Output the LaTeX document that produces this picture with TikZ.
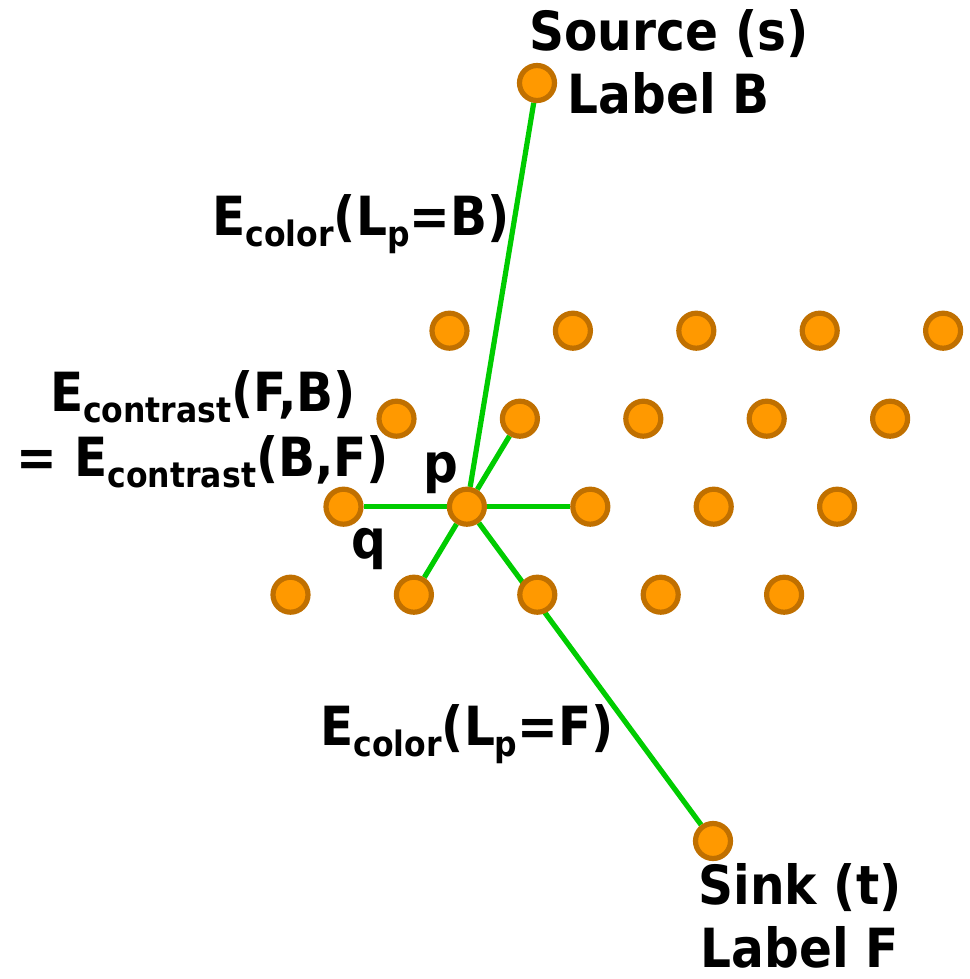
\documentclass[tikz,border=0pt]{standalone}
\usepackage{fontspec}
\setmainfont{DejaVu Sans Condensed}
\usetikzlibrary{backgrounds}
\definecolor{pixfill}{HTML}{FF9900}
\definecolor{pixedge}{HTML}{C07000}
\definecolor{linkgreen}{HTML}{00CC00}
\newcommand{\lowsub}[1]{\raisebox{-5.5pt}{\fontsize{17.5pt}{17.5pt}\selectfont #1}}

\begin{document}
\begin{tikzpicture}[x=0.5pt, y=-0.5pt,
		pixel/.style={circle, draw=pixedge, fill=pixfill, line width=2.6pt, minimum size=17.5pt, inner sep=0pt},
		link/.style={draw=linkgreen, line width=2.6pt},
		lbl/.style={font=\bfseries\fontsize{27pt}{31.5pt}\selectfont, inner sep=0pt, align=center}]
	\useasboundingbox (0,0) rectangle (969,979);
	\foreach \r in {0,...,3} {
		\foreach \c in {0,...,4} {
			\pgfmathsetmacro{\cx}{449.5-53*\r+123.4*\c}
			\pgfmathsetmacro{\cy}{330.7+88*\r}
			\node[pixel] (n\r\c) at (\cx,\cy) {};
		}
	}
	\node[pixel] (s) at (537,83) {};
	\node[pixel] (t) at (713,841) {};
	\begin{scope}[on background layer]
		\draw[link] (n21) -- (s);
		\draw[link] (n21) -- (t);
		\draw[link] (n21) -- (n20);
		\draw[link] (n21) -- (n22);
		\draw[link] (n21) -- (n11);
		\draw[link] (n21) -- (n31);
	\end{scope}
	\node[lbl] (srclbl) at (669,62) {Source (s)\\Label B};
	\node[lbl] (snklbl) at (800,916) {Sink (t)\\Label F};
	\node[lbl, anchor=base] (ecolb) at (361,235) {E\lowsub{color}(L\lowsub{p}=B)};
	\node[lbl, anchor=base] (ecolf) at (467,745) {E\lowsub{color}(L\lowsub{p}=F)};
	\node[lbl, font=\bfseries\fontsize{27pt}{32.5pt}\selectfont] (econ) at (203,429) {E\lowsub{contrast}(F,B)\\= E\lowsub{contrast}(B,F)};
	\node[lbl, anchor=base] (plbl) at (441,482) {p};
	\node[lbl, anchor=base] (qlbl) at (369,558) {q};
\end{tikzpicture}
\end{document}
